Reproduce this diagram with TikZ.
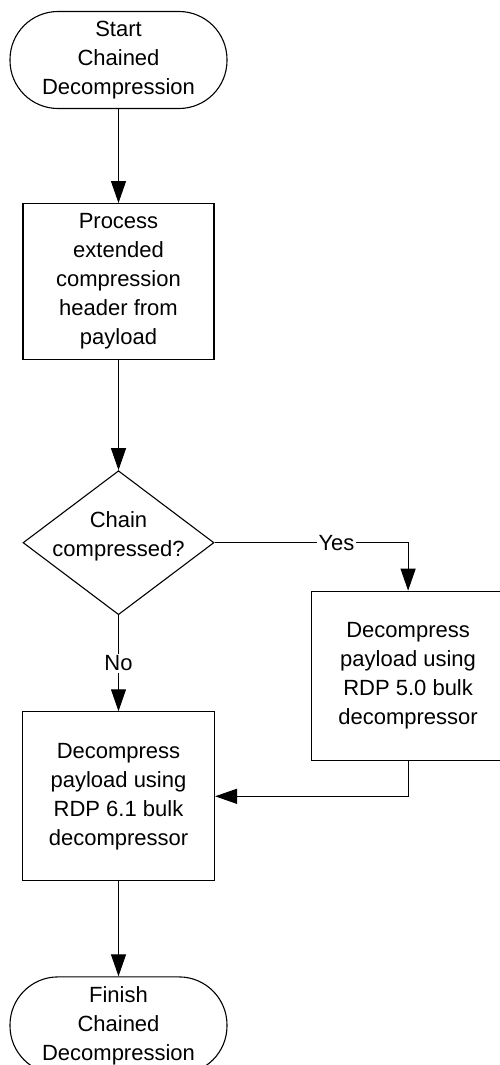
\documentclass[tikz,border=0pt]{standalone}
\usepackage{fontspec}
\setmainfont{Liberation Sans}
\usetikzlibrary{shapes.geometric, arrows.meta, positioning}

\begin{document}
\begin{tikzpicture}[node distance=94pt, >={Triangle[length=22pt,width=15pt]}, line width=1.1pt, every node/.style={font=\fontsize{22}{29}\selectfont}]
    \tikzstyle{terminal} = [rectangle, draw, rounded corners=48pt, minimum width=217pt, minimum height=97pt, text centered, align=center]
    \tikzstyle{proc} = [rectangle, draw, minimum width=191pt, minimum height=156pt, text centered, align=center]
    \tikzstyle{decision} = [diamond, draw, minimum width=191pt, minimum height=144pt, inner sep=0pt]
    \tikzstyle{lbl} = [fill=white, inner sep=2pt]

    \useasboundingbox (0,0) rectangle (499pt,-1065pt);

    \node [terminal] (start) at (118.5pt,-60pt) {Start\\Chained\\Decompression};
    \node [proc, below=94pt of start] (header) {Process\\extended\\compression\\header from\\payload};
    \node [decision, below=110pt of header] (chain) {};
    \node [align=center, yshift=6pt] (chaintext) at (chain) {Chain\\compressed?};
    \node [proc, minimum width=194pt, minimum height=169pt, below right=48pt and 96pt of chain.east] (rdpfive) {Decompress\\payload using\\RDP 5.0 bulk\\decompressor};
    \node [proc, minimum width=192pt, minimum height=169pt, below=96pt of chain] (rdpsix) {Decompress\\payload using\\RDP 6.1 bulk\\decompressor};
    \node [terminal, below=95pt of rdpsix] (finish) {Finish\\Chained\\Decompression};

    \path [draw, ->] (start) -- (header);
    \path [draw, ->] (header) -- (chain);
    \path [draw, ->] (chain.east) -| node [lbl, pos=0.315] {Yes} (rdpfive.north);
    \path [draw, ->] (chain.south) -- node [lbl] {No} (rdpsix.north);
    \path [draw, ->] (rdpfive.south) |- (rdpsix.east);
    \path [draw, ->] (rdpsix) -- (finish);
\end{tikzpicture}
\end{document}
